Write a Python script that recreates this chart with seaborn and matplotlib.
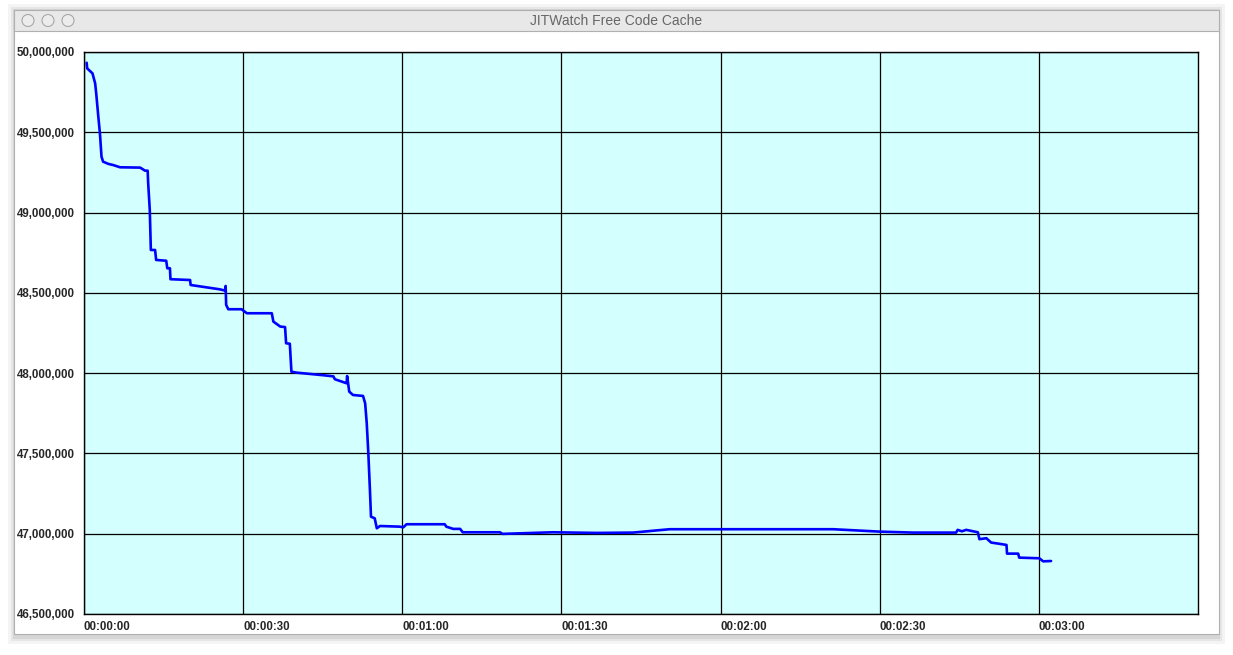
import numpy as np
import pandas as pd
import matplotlib
matplotlib.use("Agg")
import matplotlib.pyplot as plt
from matplotlib.patches import Rectangle, Ellipse
from matplotlib.ticker import FuncFormatter, MultipleLocator
import seaborn as sns

# elapsed seconds and free code cache bytes
seconds = [0.5, 0.6, 1.6, 2.1, 2.3, 2.7, 3.0, 3.3, 3.6, 4.6,
           5.5, 6.8, 10.6, 11.5, 12.0, 12.1, 12.4, 12.6, 13.4, 13.6,
           15.5, 15.7, 16.2, 16.3, 20.0, 20.1, 25.6, 26.6, 26.7, 26.8,
           27.2, 29.7, 30.7, 35.4, 35.7, 37.0, 37.9, 38.1, 38.8, 39.1,
           40.1, 45.1, 47.0, 47.3, 49.5, 49.6, 50.0, 50.7, 52.6, 53.0,
           53.3, 53.6, 53.9, 54.1, 54.8, 55.2, 55.8, 59.5, 60.2, 60.8,
           68.0, 68.3, 69.6, 70.9, 71.4, 78.4, 78.9, 88.4, 96.6, 103.5,
           110.4, 141.2, 150.0, 156.3, 164.4, 164.7, 165.5, 166.3, 168.5, 168.8,
           170.1, 171.0, 172.6, 173.9, 174.0, 176.1, 176.3, 180.1, 180.8, 182.3]
free_bytes = [49933000, 49898000, 49867000, 49805000, 49743000, 49597000, 49494000, 49348000, 49317000, 49303000,
              49296000, 49282000, 49280000, 49261000, 49261000, 49182000, 49016000, 48767000, 48767000, 48705000,
              48700000, 48653000, 48653000, 48585000, 48580000, 48549000, 48522000, 48514000, 48543000, 48425000,
              48398000, 48398000, 48373000, 48373000, 48321000, 48290000, 48287000, 48186000, 48183000, 48009000,
              48003000, 47987000, 47980000, 47962000, 47937000, 47982000, 47885000, 47864000, 47858000, 47812000,
              47688000, 47501000, 47273000, 47106000, 47096000, 47034000, 47048000, 47044000, 47040000, 47059000,
              47059000, 47044000, 47030000, 47030000, 47009000, 47009000, 46999000, 47009000, 47005000, 47007000,
              47028000, 47028000, 47013000, 47007000, 47007000, 47024000, 47015000, 47024000, 47009000, 46966000,
              46972000, 46945000, 46937000, 46930000, 46876000, 46876000, 46851000, 46847000, 46828000, 46830000]
title = "JITWatch Free Code Cache"

df = pd.DataFrame({"seconds": seconds, "free": free_bytes})

sns.set_style("white")
plt.rcParams['font.family'] = ['Liberation Sans', 'DejaVu Sans']

W, H = 1233, 655
fig = plt.figure(figsize=(W / 100, H / 100), dpi=100, facecolor="white")

def fx(px):
    return px / W

def fy(py):
    return 1 - py / H

# window chrome (soft shadow, frame, title bar, buttons)
for grow, a in [(8, 0.10), (5, 0.15), (3, 0.2)]:
    fig.patches.append(Rectangle((fx(14 - grow + 2), fy(634 + grow + 2)), fx(1205 + 2 * grow - 4),
                                 (634 - 10 + 2 * grow) / H,
                                 transform=fig.transFigure, facecolor="#9a9a9a",
                                 edgecolor="none", alpha=a, zorder=0))
fig.patches.append(Rectangle((fx(14), fy(634)), fx(1205), fy(10) - fy(634),
                             transform=fig.transFigure, facecolor="white",
                             edgecolor="#b0b0b0", linewidth=0.8, zorder=1))
fig.patches.append(Rectangle((fx(14), fy(31)), fx(1205), fy(10) - fy(31),
                             transform=fig.transFigure, facecolor="#e8e8e8",
                             edgecolor="#b0b0b0", linewidth=0.8, zorder=2))
for cx in [28, 48, 68]:
    fig.patches.append(Ellipse((fx(cx), fy(20.5)), width=fx(12), height=12 / H,
                               transform=fig.transFigure, facecolor="#ececec",
                               edgecolor="#a8a8a8", linewidth=0.8, zorder=3))
fig.text(fx(616), fy(21), title, ha="center", va="center", fontsize=10,
         color="#666666", family=['Liberation Sans', 'DejaVu Sans'], zorder=4)

ax = fig.add_axes([fx(84), fy(614), fx(1198) - fx(84), fy(52) - fy(614)])
ax.set_zorder(5)
ax.set_facecolor("#d3fffe")

sns.lineplot(data=df, x="seconds", y="free", ax=ax, color="#0000ff",
             linewidth=1.9, estimator=None, sort=False)

ax.set_xlim(0, 210)
ax.set_ylim(46500000, 50000000)
ax.xaxis.set_major_locator(plt.FixedLocator([0, 30, 60, 90, 120, 150, 180]))
ax.yaxis.set_major_locator(MultipleLocator(500000))

def hms(v, pos):
    v = int(round(v))
    return "%02d:%02d:%02d" % (v // 3600, (v % 3600) // 60, v % 60)

ax.xaxis.set_major_formatter(FuncFormatter(hms))
ax.yaxis.set_major_formatter(FuncFormatter(lambda v, p: "{:,.0f}".format(v)))
ax.grid(True, color="black", linewidth=0.9)
ax.set_axisbelow(True)
for s in ax.spines.values():
    s.set_color("black")
    s.set_linewidth(1.0)
    s.set_visible(True)
ax.tick_params(length=0, labelsize=8.3)
ax.tick_params(axis="y", pad=6.5)
ax.tick_params(axis="x", pad=5)
for lbl in ax.get_xticklabels():
    lbl.set_ha("left")
    lbl.set_fontweight("bold")
for lbl in ax.get_yticklabels():
    lbl.set_fontweight("bold")
ax.set_xlabel("")
ax.set_ylabel("")

fig.savefig("out.png", dpi=100, facecolor=fig.get_facecolor())
